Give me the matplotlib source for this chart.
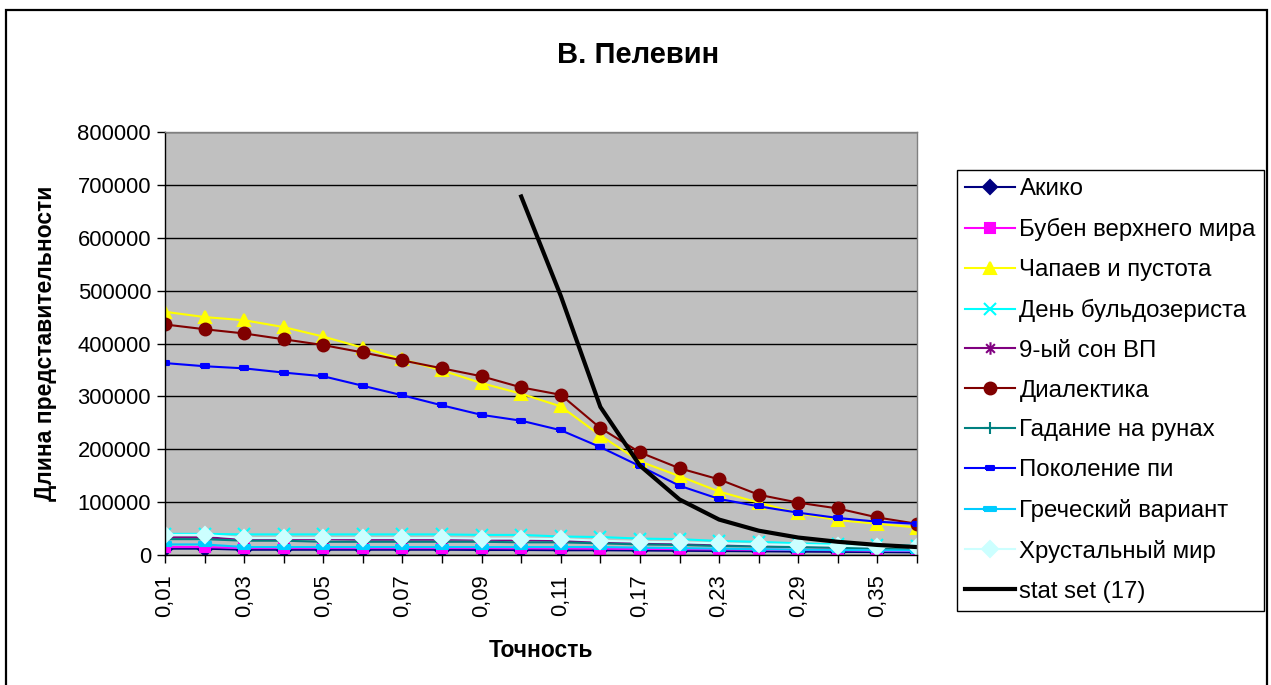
import matplotlib
matplotlib.use('Agg')
import matplotlib.pyplot as plt
from matplotlib.path import Path
from matplotlib.patches import Rectangle

plt.rcParams['font.family'] = ['Liberation Sans', 'DejaVu Sans']

x_labels = ['0,01', '0,02', '0,03', '0,04', '0,05', '0,06', '0,07', '0,08', '0,09', '0,10',
            '0,11', '0,14', '0,17', '0,20', '0,23', '0,26', '0,29', '0,32', '0,35', '0,38']

akiko = [12000, 12000, 10000, 10000, 10000, 10000, 10000, 10000, 9500, 9500,
         9000, 9000, 8500, 8000, 7500, 7000, 6500, 6000, 5500, 5000]
buben = [15000, 15000, 13000, 13000, 13000, 13000, 13000, 13000, 13000, 12500,
         12500, 12000, 11500, 11000, 10500, 10000, 9500, 9000, 8000, 7500]
chapaev = [460000, 450000, 444000, 431000, 413000, 392000, 370000, 349000, 325000, 305000,
           281000, 226000, 177000, 149000, 120000, 99000, 79000, 66000, 59000, 52000]
buldozer = [40000, 40000, 39000, 39000, 39000, 39000, 39000, 39000, 38000, 38000,
            35000, 34000, 31000, 30000, 26500, 25000, 22000, 20000, 19000, 17500]
son9 = [33000, 33000, 30000, 30000, 30000, 29000, 29000, 29000, 29000, 28000,
        27000, 25000, 23000, 21000, 19000, 17000, 15000, 14000, 13000, 12000]
dialektika = [436000, 427000, 419000, 408000, 397000, 383000, 368000, 353000, 338000, 317000,
              303000, 240000, 194000, 164000, 143000, 114000, 99000, 88000, 71000, 59000]
gadanie = [30000, 30000, 27000, 27000, 25000, 25000, 25000, 25000, 25000, 24000,
           24000, 22000, 20000, 19000, 17000, 16000, 15000, 14000, 12000, 11000]
pokolenie = [363000, 357000, 353000, 345000, 338000, 320000, 302000, 283000, 265000, 254000,
             236000, 204000, 168000, 131000, 106000, 92000, 80000, 70000, 63000, 59000]
grecheskiy = [20000, 20000, 15000, 15000, 15000, 15000, 15000, 15000, 15000, 15000,
              15000, 15000, 14000, 13000, 12000, 11000, 10000, 9500, 9000, 8500]
hrustal = [38000, 38000, 32000, 32000, 32000, 32000, 32000, 32000, 31000, 31000,
           30000, 27000, 25000, 24000, 22000, 20000, 19000, 17500, 15500, 14500]
stat_set = [None] * 9 + [678000, 490000, 280000, 169000, 105000, 67000, 46000, 33000, 25000, 19000, 15000]

# custom Excel-like markers
dash_short = Path([(-1, -0.5), (1, -0.5), (1, 0.5), (-1, 0.5), (-1, -0.5)])
dash_long = Path([(-1, -0.35), (1, -0.35), (1, 0.35), (-1, 0.35), (-1, -0.35)])
asterisk = Path([(0, -1), (0, 1), (-0.7, -0.7), (0.7, 0.7), (-0.7, 0.7), (0.7, -0.7)],
                [Path.MOVETO, Path.LINETO, Path.MOVETO, Path.LINETO, Path.MOVETO, Path.LINETO])

series = [
    ('Акико', akiko, '#000080', 'D', 7),
    ('Бубен верхнего мира', buben, '#FF00FF', 's', 7),
    ('Чапаев и пустота', chapaev, '#FFFF00', '^', 9),
    ('День бульдозериста', buldozer, '#00FFFF', 'x', 9),
    ('9-ый сон ВП', son9, '#800080', asterisk, 9),
    ('Диалектика', dialektika, '#800000', 'o', 8.5),
    ('Гадание на рунах', gadanie, '#008080', '+', 9),
    ('Поколение пи', pokolenie, '#0000FF', dash_short, 6),
    ('Греческий вариант', grecheskiy, '#00CCFF', dash_long, 9),
    ('Хрустальный мир', hrustal, '#CCFFFF', 'D', 8),
]

fig = plt.figure(figsize=(12.71, 6.85), dpi=100)
ax = fig.add_axes([165 / 1271, 1 - 555 / 685, (917 - 165) / 1271, (555 - 132) / 685])
ax.set_facecolor('#C0C0C0')

xs = list(range(len(x_labels)))
handles = []
for name, vals, col, mk, ms in series:
    h, = ax.plot(xs, vals, color=col, lw=1.5, marker=mk, markersize=ms,
                 markerfacecolor=col, markeredgecolor=col, markeredgewidth=1.5,
                 label=name)
    handles.append(h)

sx = [x for x, v in zip(xs, stat_set) if v is not None]
sv = [v for v in stat_set if v is not None]
h, = ax.plot(sx, sv, color='black', lw=3, label='stat set (17)')
handles.append(h)

ax.set_xlim(0, len(x_labels) - 1)
ax.set_ylim(0, 800000)
ax.set_yticks(range(0, 800001, 100000))
ax.set_yticklabels([str(v) for v in range(0, 800001, 100000)], fontsize=15.8)
ax.set_xticks(xs)
ax.set_xticklabels([lab if i % 2 == 0 else '' for i, lab in enumerate(x_labels)],
                   rotation=90, fontsize=15.8)
ax.tick_params(axis='both', direction='out', length=6, width=1, color='black', pad=4)
ax.tick_params(axis='x', pad=8)
ax.yaxis.grid(True, color='black', lw=1)
ax.set_axisbelow(True)

for side in ['top', 'right']:
    ax.spines[side].set_color('#808080')
    ax.spines[side].set_linewidth(1)
for side in ['left', 'bottom']:
    ax.spines[side].set_color('black')
    ax.spines[side].set_linewidth(1)

fig.text(638 / 1271, 1 - 55 / 685, 'В. Пелевин', fontsize=21, fontweight='bold',
         ha='center', va='center')
ax.set_xlabel('Точность', fontsize=16.5, fontweight='bold', labelpad=16)
ax.set_ylabel('Длина представительности', fontsize=16.5, fontweight='bold', labelpad=15)

leg = ax.legend(handles=handles, loc='upper left',
                bbox_to_anchor=(957 / 1271, 1 - 170 / 685), bbox_transform=fig.transFigure,
                fontsize=17.3, frameon=True, fancybox=False, edgecolor='black',
                framealpha=1, borderpad=0.35, borderaxespad=0, handlelength=2.05,
                handletextpad=0.2, labelspacing=0.74)
leg.get_frame().set_linewidth(1)

fig.add_artist(Rectangle((6 / 1271, -0.05), (1267 - 6) / 1271, 1.05 - 10 / 685,
                         transform=fig.transFigure, fill=False, edgecolor='black', lw=1.6))

fig.savefig('out.png', dpi=100)
